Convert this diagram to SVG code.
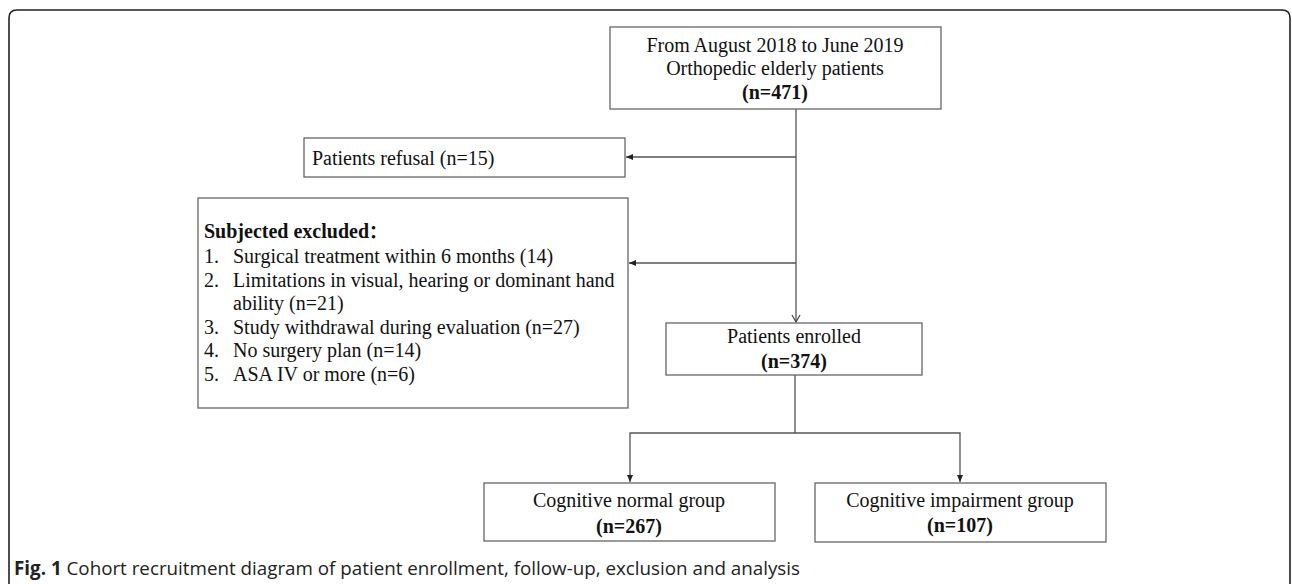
<svg xmlns="http://www.w3.org/2000/svg" width="1292" height="584" viewBox="0 0 1292 584">
<style>
.box{fill:#fff;stroke:#666;stroke-width:1.3}
.t{font-family:"Liberation Serif","Times New Roman",serif;font-size:20px;fill:#111}
.b{font-weight:bold}
.c{text-anchor:middle}
.ln{fill:none;stroke:#555;stroke-width:1.3}
.cap{font-family:"Open Sans","Liberation Sans",sans-serif;font-size:18.8px;fill:#222}
</style>
<defs>
<marker id="ah" markerWidth="8" markerHeight="8" refX="7" refY="4" orient="auto" markerUnits="userSpaceOnUse">
<path d="M0,1 L7,4 L0,7 z" fill="#222"/>
</marker>
<marker id="av" markerWidth="10" markerHeight="10" refX="8" refY="5" orient="auto" markerUnits="userSpaceOnUse">
<path d="M1,1 L8,5 L1,9" fill="none" stroke="#444" stroke-width="1.2"/>
</marker>
</defs>
<path d="M9,584 V18 Q9,10 17,10 H1282 Q1290,10 1290,18 V584" fill="none" stroke="#222" stroke-width="1.6"/>
<g id="connectors">
<path class="ln" d="M796,109 V322" marker-end="url(#av)"/>
<path class="ln" d="M796,157 H626" marker-end="url(#ah)"/>
<path class="ln" d="M796,263 H629" marker-end="url(#ah)"/>
<path class="ln" d="M795,375 V433 H630 V482" marker-end="url(#ah)"/>
<path class="ln" d="M795,433 H960 V482" marker-end="url(#ah)"/>
</g>
<g id="node-start">
<rect class="box" x="610" y="27" width="331" height="82"/>
<text class="t c" x="775" y="52">From August 2018 to June 2019</text>
<text class="t c" x="775" y="75">Orthopedic elderly patients</text>
<text class="t c b" x="775" y="99">(n=471)</text>
</g>
<g id="node-refusal">
<rect class="box" x="304" y="138" width="321" height="39"/>
<text class="t" x="312" y="165">Patients refusal (n=15)</text>
</g>
<g id="node-excluded">
<rect class="box" x="198" y="198" width="430" height="210"/>
<text class="t b" x="204" y="238">Subjected excluded<tspan font-family="'Noto Sans CJK SC',sans-serif" font-size="18">：</tspan></text>
<text class="t" x="204" y="263">1.</text><text class="t" x="233" y="263">Surgical treatment within 6 months (14)</text>
<text class="t" x="204" y="287">2.</text><text class="t" x="233" y="287">Limitations in visual, hearing or dominant hand</text>
<text class="t" x="233" y="310">ability (n=21)</text>
<text class="t" x="204" y="334">3.</text><text class="t" x="233" y="334">Study withdrawal during evaluation (n=27)</text>
<text class="t" x="204" y="357">4.</text><text class="t" x="233" y="357">No surgery plan (n=14)</text>
<text class="t" x="204" y="381">5.</text><text class="t" x="233" y="381">ASA IV or more (n=6)</text>
</g>
<g id="node-enrolled">
<rect class="box" x="666" y="323" width="256" height="52"/>
<text class="t c" x="794" y="343">Patients enrolled</text>
<text class="t c b" x="794" y="368">(n=374)</text>
</g>
<g id="node-normal">
<rect class="box" x="484" y="483" width="291" height="58"/>
<text class="t c" x="629" y="507">Cognitive normal group</text>
<text class="t c b" x="629" y="533">(n=267)</text>
</g>
<g id="node-impairment">
<rect class="box" x="815" y="483" width="291" height="59"/>
<text class="t c" x="960" y="507">Cognitive impairment group</text>
<text class="t c b" x="960" y="532">(n=107)</text>
</g>
<text class="cap" x="14" y="575"><tspan font-weight="bold">Fig. 1</tspan> Cohort recruitment diagram of patient enrollment, follow-up, exclusion and analysis</text>
</svg>
